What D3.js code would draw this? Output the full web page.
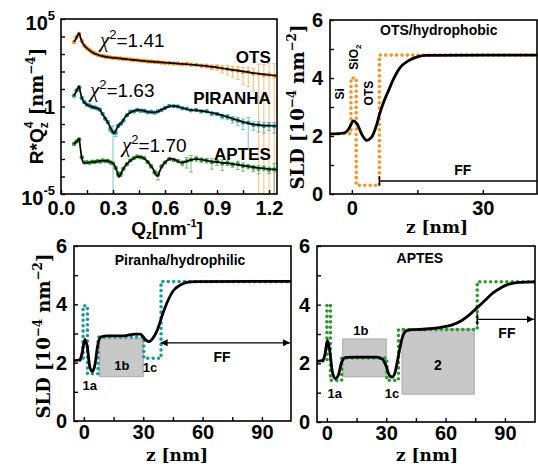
<!DOCTYPE html>
<html>
<head>
<meta charset="utf-8">
<script src="https://cdn.jsdelivr.net/npm/d3@7"></script>
<style>
  body { margin: 0; background: #fff; }
  svg text { font-family: "Liberation Sans", Arial, sans-serif; }
  .tick text { font-weight: bold; font-size: 20px; font-family: "Liberation Sans", Arial, sans-serif; }
  .serif { font-family: "DejaVu Serif", "Liberation Serif", serif; font-weight: bold; }
</style>
</head>
<body>
<svg id="chart" width="538" height="467"></svg>
<script>
// ---
// Data: reflectivity (log10 of R*Qz^4), points + fits
// ---
const qData = [0.075, 0.09, 0.105, 0.12, 0.135, 0.15, 0.165, 0.18, 0.195, 0.21, 0.225, 0.24, 0.255, 0.27, 0.285, 0.3, 0.315, 0.33, 0.345, 0.36,
  0.38, 0.4, 0.42, 0.44, 0.46, 0.48, 0.5, 0.52, 0.54, 0.56, 0.58, 0.6,
  0.625, 0.65, 0.675, 0.7, 0.725, 0.75,
  0.78, 0.81, 0.84, 0.87, 0.9, 0.93, 0.96, 0.99, 1.02, 1.05, 1.08, 1.11, 1.14, 1.17, 1.2, 1.23]

const otsLogR = [3.68, 3.97, 4.15, 3.74, 3.47, 3.33, 3.22, 3.1, 3.03, 2.96, 2.92, 2.89, 2.85, 2.82, 2.81, 2.78, 2.78, 2.75, 2.75, 2.72,
  2.71, 2.69, 2.66, 2.65, 2.62, 2.61, 2.57, 2.57, 2.54, 2.54, 2.51, 2.5,
  2.49, 2.46, 2.46, 2.42, 2.43, 2.39,
  2.38, 2.33, 2.32, 2.26, 2.25, 2.17, 2.15, 2.08, 2.06, 1.97, 1.97, 1.89, 1.88, 1.8, 1.82, 1.75]
const otsErr = [0.05, 0.05, 0.05, 0.05, 0.05, 0.05, 0.05, 0.05, 0.05, 0.05, 0.05, 0.05, 0.05, 0.05, 0.05, 0.05, 0.05, 0.05, 0.05, 0.05,
  0.06, 0.06, 0.06, 0.06, 0.07, 0.07, 0.07, 0.07, 0.08, 0.08, 0.08, 0.08,
  0.09, 0.09, 0.1, 0.1, 0.12, 0.12,
  0.15, 0.2, 0.25, 0.3, 0.35, 0.45, 0.55, 0.6, 0.7, 0.8, 0.85, 0.9, 2.5, 3, 3.5, 4]

const piranhaLogR = [0.62, 0.92, 1.1, 0.48, 0.25, 0.1, 0.06, -0.04, -0.06, -0.12, -0.18, -0.42, -0.7, -0.88, -1.3, -1.45, -1.5, -1.1, -0.98, -0.8,
  -0.5, -0.3, -0.28, -0.2, -0.24, -0.24, -0.33, -0.3, -0.35, -0.27, -0.2, -0.08,
  0.03, 0.02, 0.0, -0.1, -0.12, -0.22,
  -0.2, -0.28, -0.27, -0.4, -0.42, -0.55, -0.58, -0.72, -0.8, -0.92, -0.93, -1.05, -1.06, -1.12, -1.08, -1.12]
const piranhaErr = [0.08, 0.08, 0.08, 0.08, 0.08, 0.08, 0.08, 0.08, 0.08, 0.08, 0.1, 0.1, 0.12, 0.15, 0.3, 1.2, 0.4, 0.2, 0.12, 0.1,
  0.1, 0.1, 0.1, 0.1, 0.1, 0.1, 0.1, 0.1, 0.1, 0.1, 0.1, 0.1,
  0.1, 0.1, 0.1, 0.1, 0.12, 0.12,
  0.12, 0.15, 0.15, 0.2, 0.2, 0.3, 0.3, 0.4, 0.5, 0.6, 0.97, 0.5, 0.6, 0.6, 0.5, 0.6]

const aptesLogR = [-2.14, -2.0, -1.88, -2.9, -3.2, -3.18, -3.22, -3.15, -3.17, -3.12, -3.15, -3.08, -3.12, -3.1, -3.2, -3.25, -3.5, -3.88, -3.85, -3.55,
  -3.3, -3.08, -2.95, -2.85, -2.9, -2.95, -3.18, -3.42, -3.75, -3.9, -3.42, -3.2,
  -3.0, -3.05, -3.12, -3.22, -3.12, -3.05,
  -2.98, -3.05, -3.08, -3.18, -3.15, -3.25, -3.22, -3.32, -3.3, -3.4, -3.42, -3.5, -3.55, -3.52, -3.62, -3.6]
const aptesErr = [0.08, 0.08, 0.08, 0.08, 0.08, 0.08, 0.08, 0.08, 0.08, 0.08, 0.08, 0.08, 0.08, 0.08, 0.1, 0.1, 0.15, 0.3, 0.3, 0.15,
  0.1, 0.1, 0.1, 0.1, 0.1, 0.1, 0.12, 0.2, 0.3, 0.5, 0.2, 0.12,
  0.12, 0.15, 0.2, 0.3, 0.6, 0.8,
  0.3, 0.3, 0.3, 0.6, 0.4, 0.6, 0.3, 0.3, 0.5, 0.5, 0.3, 0.4, 0.5, 0.3, 0.4, 1.2]

const qFit = [0.075, 0.085, 0.095, 0.104, 0.112, 0.12, 0.13, 0.14, 0.16, 0.18, 0.2, 0.22, 0.24, 0.26, 0.28, 0.295, 0.305, 0.315, 0.325, 0.335,
  0.35, 0.37, 0.4, 0.43, 0.45, 0.47, 0.5, 0.53, 0.555, 0.58, 0.61, 0.635, 0.66, 0.69, 0.72, 0.75,
  0.78, 0.81, 0.84, 0.88, 0.92, 0.96, 1.0, 1.04, 1.08, 1.12, 1.16, 1.2, 1.245]
const otsFit = [3.7, 3.85, 4.05, 4.2, 3.95, 3.72, 3.55, 3.42, 3.25, 3.1, 3.0, 2.93, 2.88, 2.84, 2.81, 2.79, 2.78, 2.77, 2.76, 2.75,
  2.74, 2.72, 2.68, 2.65, 2.63, 2.61, 2.58, 2.56, 2.54, 2.52, 2.5, 2.48, 2.46, 2.44, 2.42, 2.4,
  2.37, 2.34, 2.31, 2.26, 2.2, 2.14, 2.08, 2.02, 1.96, 1.9, 1.85, 1.8, 1.76]
const piranhaFit = [0.63, 0.8, 1.0, 1.15, 0.8, 0.5, 0.3, 0.17, 0.05, -0.02, -0.08, -0.15, -0.45, -0.75, -1.1, -1.4, -1.55, -1.4, -1.2, -1.05,
  -0.92, -0.6, -0.34, -0.22, -0.2, -0.23, -0.3, -0.33, -0.3, -0.18, -0.05, 0.03, 0.02, -0.06, -0.14, -0.2,
  -0.22, -0.25, -0.3, -0.38, -0.48, -0.6, -0.72, -0.85, -0.96, -1.04, -1.08, -1.1, -1.1]
const aptesFit = [-2.13, -2.05, -1.95, -1.84, -2.4, -2.95, -3.2, -3.22, -3.2, -3.17, -3.15, -3.12, -3.1, -3.1, -3.15, -3.22, -3.3, -3.5, -3.75, -4.02,
  -3.75, -3.4, -3.1, -2.9, -2.87, -2.92, -3.15, -3.55, -3.97, -3.45, -3.1, -2.98, -3.05, -3.2, -3.15, -3.05,
  -3.0, -3.03, -3.1, -3.15, -3.2, -3.24, -3.3, -3.36, -3.42, -3.48, -3.53, -3.57, -3.6]

const qTicks = [0, 0.15, 0.3, 0.45, 0.6, 0.75, 0.9, 1.05, 1.2]
const qTickLabels = ['0.0', '', '0.3', '', '0.6', '', '0.9', '', '1.2']
const decadeTicks = [-5, -4, -3, -2, -1, 0, 1, 2, 3, 4, 5]

// ---
// Data: SLD profiles (z in nm, SLD in 1e-4 nm^-2)
// ---
const sldTicks = [0, 1, 2, 3, 4, 5, 6]
const zTicksShort = [0, 15, 30]
const zTicksLong = [0, 15, 30, 45, 60, 75, 90]

const otsModelZ = [-5, -3, -1.5, -0.5, 0.3, 1.2, 2.3, 3.4, 4.5, 5.5, 6.4, 7.5, 8.5, 9.5, 11, 13, 15, 17, 42.4]
const otsModelSld = [2.07, 2.08, 2.12, 2.3, 2.52, 2.42, 2.05, 1.85, 1.95, 2.3, 2.78, 3.25, 3.6, 3.95, 4.35, 4.6, 4.73, 4.78, 4.79]
const otsStepZ = [-3, -0.2, -0.2, 1.0, 1.0, 6.3, 6.3, 42.4]
const otsStepSld = [2.08, 2.08, 4.0, 4.0, 0.3, 0.3, 4.79, 4.79]

const piranhaModelZ = [-5, -2, -1, 0.5, 1.8, 3, 4.3, 5.5, 7, 8.5, 12, 20, 26, 28.5, 31, 33, 35, 37, 40, 42.5, 45, 48.5, 52, 56, 104.7]
const piranhaModelSld = [2.07, 2.1, 2.3, 2.8, 2.5, 1.85, 1.7, 1.9, 2.6, 2.88, 2.92, 2.92, 2.98, 2.98, 2.8, 2.72, 2.85, 3.1, 3.7, 4.13, 4.45, 4.65, 4.75, 4.78, 4.79]
const piranhaStepZ = [-2, -0.4, -0.4, 1.8, 1.8, 7.2, 7.2, 30.3, 30.3, 39, 39, 104.7]
const piranhaStepSld = [2.08, 2.08, 3.95, 3.95, 1.62, 1.62, 2.88, 2.88, 2.15, 2.15, 4.78, 4.78]
const piranhaBoxes = [[8, 30, 1.52, 2.82]]

const aptesModelZ = [-5, -2, -1, 0.3, 1.5, 2.8, 4.3, 5.8, 7.5, 9.5, 15, 25, 28, 30, 31.5, 33, 34.5, 36, 38, 40, 43, 50, 57, 63, 68, 72, 76, 80, 84, 88, 92, 97, 105.2]
const aptesModelSld = [2.07, 2.1, 2.3, 2.78, 2.4, 1.7, 1.48, 1.6, 2.05, 2.2, 2.21, 2.21, 2.15, 1.9, 1.6, 1.53, 1.7, 2.2, 2.85, 3.1, 3.15, 3.17, 3.22, 3.3, 3.45, 3.65, 3.9, 4.15, 4.4, 4.58, 4.7, 4.76, 4.78]
const aptesStepZ = [-2, 0, 0, 1.8, 1.8, 7.5, 7.5, 30.3, 30.3, 36.2, 36.2, 76, 76, 105.2]
const aptesStepSld = [2.08, 2.08, 4.0, 4.0, 1.42, 1.42, 2.18, 2.18, 1.42, 1.42, 3.15, 3.15, 4.78, 4.78]
const aptesBoxes = [[8, 30, 1.54, 2.83], [38, 74.5, 0.95, 3.17]]

const orange = '#f7931e'
const teal = '#1c9a9c'
const green = '#2f9a2f'

// ---
// Setup
// ---
const svg = d3.select('#chart')
const defs = svg.append('defs')

defs.append('marker')
    .attr('id', 'arrow')
    .attr('viewBox', '0 0 10 10')
    .attr('refX', 10)
    .attr('refY', 5)
    .attr('markerUnits', 'userSpaceOnUse')
    .attr('markerWidth', 8)
    .attr('markerHeight', 7)
    .attr('orient', 'auto-start-reverse')
  .append('path')
    .attr('d', 'M0,0L10,5L0,10Z')
    .attr('fill', '#000')

const boxA = {l: 61, r: 277, t: 19, b: 194}
const boxB = {l: 330, r: 537, t: 20, b: 194}
const boxC = {l: 74, r: 291, t: 246, b: 421}
const boxD = {l: 317, r: 535, t: 246, b: 422}

function clip (id, box) {
  defs.append('clipPath').attr('id', id)
    .append('rect')
      .attr('x', box.l).attr('y', box.t)
      .attr('width', box.r - box.l).attr('height', box.b - box.t)
  return svg.append('g').attr('clip-path', `url(#${id})`)
}

function frame (box) {
  svg.append('rect')
    .attr('x', box.l).attr('y', box.t)
    .attr('width', box.r - box.l).attr('height', box.b - box.t)
    .attr('fill', 'none')
    .attr('stroke', '#000')
    .attr('stroke-width', 1.6)
}

function axes (box, x, y, xTicks, xFmt, yTicks, yFmt, xPad) {
  svg.append('g')
      .attr('transform', `translate(0,${box.b})`)
      .call(d3.axisBottom(x).tickValues(xTicks).tickFormat(xFmt).tickSize(-4).tickPadding(xPad))
      .call(g => g.select('.domain').remove())
      .call(g => g.selectAll('line').attr('stroke-width', 1.4))
  svg.append('g')
      .attr('transform', `translate(${box.l},0)`)
      .call(d3.axisLeft(y).tickValues(yTicks).tickFormat(yFmt).tickSize(-4).tickPadding(7))
      .call(g => g.select('.domain').remove())
      .call(g => g.selectAll('line').attr('stroke-width', 1.4))
}

function sldTitle (cx, cy) {
  const t = svg.append('text')
    .attr('class', 'serif')
    .attr('transform', `translate(${cx},${cy}) rotate(-90)`)
    .attr('text-anchor', 'middle')
    .attr('font-size', 18)
  t.append('tspan').text('SLD [10')
  t.append('tspan').attr('dy', -8).attr('font-size', 12).text('−4')
  t.append('tspan').attr('dy', 8).text(' nm')
  t.append('tspan').attr('dy', -8).attr('font-size', 12).text('−2')
  t.append('tspan').attr('dy', 8).text(']')
}

function zTitle (cx, cy) {
  svg.append('text')
    .attr('class', 'serif')
    .attr('x', cx).attr('y', cy)
    .attr('text-anchor', 'middle')
    .attr('font-size', 17)
    .text('z [nm]')
}

function boldLabel (x, y, text, size, anchor) {
  return svg.append('text')
    .attr('x', x).attr('y', y)
    .attr('text-anchor', anchor || 'middle')
    .attr('font-weight', 'bold')
    .attr('font-size', size)
    .text(text)
}

const everyOther = d => (d % 2 === 0 ? d : '')

// ---
// Panel A: reflectivity
// ---
const xA = d3.scaleLinear().domain([0, 1.246]).range([boxA.l, boxA.r])
const yA = d3.scaleLog().domain([1e-5, 1e5]).range([boxA.b, boxA.t])

const seriesA = [
  {name: 'OTS', color: orange, logR: otsLogR, err: otsErr, fit: otsFit, chi: '1.41'},
  {name: 'PIRANHA', color: teal, logR: piranhaLogR, err: piranhaErr, fit: piranhaFit, chi: '1.63'},
  {name: 'APTES', color: green, logR: aptesLogR, err: aptesErr, fit: aptesFit, chi: '1.70'}
]

const plotA = clip('clipA', boxA)

seriesA.forEach(s => {
  const pts = qData.map((q, i) => {
    const v = Math.pow(10, s.logR[i])
    const lo = v * (1 - s.err[i])
    const hi = v * (1 + s.err[i])
    return {q, v, lo: lo > 1e-5 ? lo : null, hi}
  })

  const bars = plotA.append('g')
      .attr('stroke', s.color)
      .attr('stroke-opacity', 0.6)
      .attr('stroke-width', 1)
  bars.selectAll('line.bar')
      .data(pts)
    .enter()
      .append('line')
      .attr('x1', d => xA(d.q)).attr('x2', d => xA(d.q))
      .attr('y1', d => (d.lo ? yA(d.lo) : boxA.b + 2))
      .attr('y2', d => yA(d.hi))
  bars.selectAll('line.cap')
      .data(pts)
    .enter()
      .append('line')
      .attr('x1', d => xA(d.q) - 2).attr('x2', d => xA(d.q) + 2)
      .attr('y1', d => yA(d.hi)).attr('y2', d => yA(d.hi))
  bars.selectAll('line.capLo')
      .data(pts.filter(d => d.lo))
    .enter()
      .append('line')
      .attr('x1', d => xA(d.q) - 2).attr('x2', d => xA(d.q) + 2)
      .attr('y1', d => yA(d.lo)).attr('y2', d => yA(d.lo))

  plotA.append('g').selectAll('circle')
      .data(pts)
    .enter()
      .append('circle')
      .attr('cx', d => xA(d.q))
      .attr('cy', d => yA(d.v))
      .attr('r', 2.2)
      .attr('fill', s.color)

  const line = d3.line()
    .x((q, i) => xA(q))
    .y((q, i) => yA(Math.pow(10, s.fit[i])))
    .curve(d3.curveMonotoneX)
  plotA.append('path')
      .attr('d', line(qFit))
      .attr('fill', 'none')
      .attr('stroke', '#000')
      .attr('stroke-width', 1.7)
})

frame(boxA)
axes(boxA, xA, yA, qTicks, (d, i) => qTickLabels[i], decadeTicks.map(e => Math.pow(10, e)), () => '', 7)

// decade labels
const decadeLabels = [[5, '5'], [0, null], [-5, '-5']]
decadeLabels.forEach(([e, sup]) => {
  const t = svg.append('text')
    .attr('x', boxA.l - 6)
    .attr('y', yA(Math.pow(10, e)) + 11)
    .attr('text-anchor', 'end')
    .attr('font-weight', 'bold')
    .attr('font-size', 20)
  if (sup) {
    t.append('tspan').text('10')
    t.append('tspan').attr('dy', -10).attr('font-size', 13).text(sup)
  } else {
    t.attr('y', yA(1) + 7).text('1')
  }
})

// chi labels + names
const chiPos = [[0.225, 3.4], [0.167, 0.54], [0.352, -2.6]]
const namePos = [2.49, 0.14, -3.06]
seriesA.forEach((s, i) => {
  const t = svg.append('text')
    .attr('x', xA(chiPos[i][0]))
    .attr('y', yA(Math.pow(10, chiPos[i][1])))
    .attr('font-size', 19)
  t.append('tspan').attr('font-family', '"Liberation Serif", serif').attr('font-style', 'italic').attr('font-size', 21).text('χ')
  t.append('tspan').attr('dy', -8).attr('font-size', 13).text('2')
  t.append('tspan').attr('dy', 8).text('=' + s.chi)

  boldLabel(xA(1.21), yA(Math.pow(10, namePos[i])), s.name, 17, 'end')
})

// axis titles A
const tA = svg.append('text')
  .attr('transform', `translate(43,106) rotate(-90)`)
  .attr('text-anchor', 'middle')
  .attr('font-size', 19)
tA.append('tspan').attr('font-weight', 'bold').text('R*Q')
tA.append('tspan').attr('font-weight', 'bold').attr('font-size', 12).attr('dy', 5).text('z')
tA.append('tspan').attr('font-weight', 'bold').attr('font-size', 12).attr('dx', -6).attr('dy', -15).text('4')
tA.append('tspan').attr('class', 'serif').attr('font-size', 18).attr('dy', 10).text(' [nm')
tA.append('tspan').attr('class', 'serif').attr('font-size', 12).attr('dy', -8).text('−4')
tA.append('tspan').attr('class', 'serif').attr('font-size', 18).attr('dy', 8).text(']')

const tQ = svg.append('text')
  .attr('x', 167).attr('y', 235)
  .attr('text-anchor', 'middle')
  .attr('font-weight', 'bold')
  .attr('font-size', 19)
tQ.append('tspan').text('Q')
tQ.append('tspan').attr('font-size', 12).attr('dy', 4).text('z')
tQ.append('tspan').attr('dy', -4).text('[nm')
tQ.append('tspan').attr('font-size', 11).attr('dy', -8).text('-1')
tQ.append('tspan').attr('dy', 8).text(']')

// ---
// SLD panels
// ---
function sldPanel (id, box, zMax, zTicks, modelZ, modelSld, stepZ, stepSld, color, boxes, xPad) {
  const x = d3.scaleLinear().domain([-5, zMax]).range([box.l, box.r])
  const y = d3.scaleLinear().domain([0, 6]).range([box.b, box.t])
  const plot = clip(id, box)

  plot.selectAll('rect.layer')
      .data(boxes)
    .enter()
      .append('rect')
      .attr('x', d => x(d[0]))
      .attr('y', d => y(d[3]))
      .attr('width', d => x(d[1]) - x(d[0]))
      .attr('height', d => y(d[2]) - y(d[3]))
      .attr('fill', '#c8c8c8')
      .attr('stroke', '#a8a8a8')
      .attr('stroke-width', 1)

  const step = d3.line().x(d => x(d[0])).y(d => y(d[1]))
  plot.append('path')
      .attr('d', step(d3.zip(stepZ, stepSld)))
      .attr('fill', 'none')
      .attr('stroke', color)
      .attr('stroke-width', 3.6)
      .attr('stroke-linecap', 'round')
      .attr('stroke-dasharray', '0,5.4')

  const model = d3.line().x(d => x(d[0])).y(d => y(d[1])).curve(d3.curveMonotoneX)
  plot.append('path')
      .attr('d', model(d3.zip(modelZ, modelSld)))
      .attr('fill', 'none')
      .attr('stroke', '#000')
      .attr('stroke-width', 2.8)

  frame(box)
  axes(box, x, y, zTicks, d => (d % 30 === 0 ? d : ''), sldTicks, everyOther, xPad)
  return {x, y, plot}
}

// B: OTS
const pB = sldPanel('clipB', boxB, 42.4, zTicksShort, otsModelZ, otsModelSld, otsStepZ, otsStepSld, orange, [], 7)
pB.plot.append('path')
    .attr('d', `M${pB.x(6.3)},${pB.y(0.28)}V${pB.y(0.62)}M${pB.x(6.3)},${pB.y(0.45)}H${boxB.r}`)
    .attr('stroke', '#000')
    .attr('stroke-width', 1.4)
    .attr('fill', 'none')
boldLabel(pB.x(19.9), pB.y(5.48), 'OTS/hydrophobic', 14)
boldLabel(pB.x(25.4), pB.y(0.66), 'FF', 14)
const rotB = [['Si', -2.75, 3.45], ['SiO', 0.46, 4.72], ['OTS', 3.9, 3.48]]
rotB.forEach(([txt, z, s]) => {
  const t = svg.append('text')
    .attr('transform', `translate(${pB.x(z) + 4},${pB.y(s)}) rotate(-90)`)
    .attr('text-anchor', 'middle')
    .attr('font-weight', 'bold')
    .attr('font-size', 12)
    .text(txt)
  if (txt === 'SiO') t.append('tspan').attr('font-size', 8).attr('dy', 3).text('2')
})
sldTitle(304, 107)
zTitle(437, 233)

// C: Piranha
const pC = sldPanel('clipC', boxC, 104.7, zTicksLong, piranhaModelZ, piranhaModelSld, piranhaStepZ, piranhaStepSld, teal, piranhaBoxes, 4)
pC.plot.append('line')
    .attr('x1', pC.x(38.8)).attr('x2', boxC.r - 1)
    .attr('y1', pC.y(2.68)).attr('y2', pC.y(2.68))
    .attr('stroke', '#000')
    .attr('stroke-width', 1.4)
    .attr('marker-start', 'url(#arrow)')
    .attr('marker-end', 'url(#arrow)')
boldLabel(pC.x(48.6), pC.y(5.35), 'Piranha/hydrophilic', 14)
const labelsC = [['1a', 3.0, 1.06], ['1b', 19.2, 1.75], ['1c', 33.4, 1.68], ['FF', 69.8, 2.02]]
labelsC.forEach(([txt, z, s]) => boldLabel(pC.x(z), pC.y(s), txt, txt === 'FF' ? 14 : 13))
sldTitle(50, 336)
zTitle(177, 461)

// D: APTES
const pD = sldPanel('clipD', boxD, 105.2, zTicksLong, aptesModelZ, aptesModelSld, aptesStepZ, aptesStepSld, green, aptesBoxes, 4)
pD.plot.append('path')
    .attr('d', `M${pD.x(76)},${pD.y(3.3)}V${pD.y(3.7)}`)
    .attr('stroke', '#000')
    .attr('stroke-width', 1.4)
pD.plot.append('line')
    .attr('x1', pD.x(76)).attr('x2', boxD.r - 1)
    .attr('y1', pD.y(3.5)).attr('y2', pD.y(3.5))
    .attr('stroke', '#000')
    .attr('stroke-width', 1.4)
    .attr('marker-end', 'url(#arrow)')
boldLabel(pD.x(47), pD.y(5.42), 'APTES', 14)
const labelsD = [['1b', 17.2, 2.97], ['2', 56.1, 1.77], ['1a', 4.0, 0.82], ['1c', 32.9, 0.82], ['FF', 91, 2.86]]
labelsD.forEach(([txt, z, s]) => boldLabel(pD.x(z), pD.y(s), txt, txt === '2' || txt === 'FF' ? 14 : 13))
zTitle(427, 461)
</script>
</body>
</html>
